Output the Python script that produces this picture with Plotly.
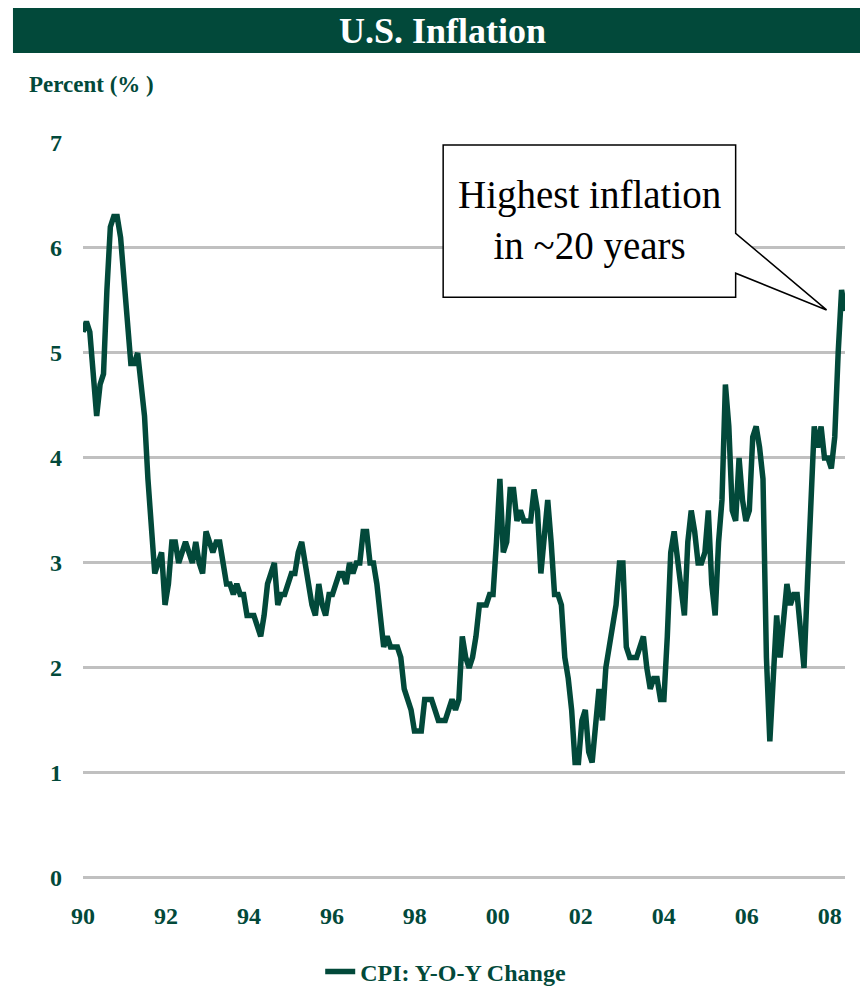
import plotly.graph_objects as go

# ---- data: CPI year-over-year change (%), monthly Jan 1990 - Aug 2008 ----
cpi_1990 = [5.2, 5.3, 5.2, 4.7, 4.4, 4.7, 4.8, 5.6, 6.2, 6.3, 6.3, 6.1]
cpi_1991 = [5.7, 5.3, 4.9, 4.9, 5.0, 4.7, 4.4, 3.8, 3.4, 2.9, 3.0, 3.1]
cpi_1992 = [2.6, 2.8, 3.2, 3.2, 3.0, 3.1, 3.2, 3.1, 3.0, 3.2, 3.0, 2.9]
cpi_1993 = [3.3, 3.2, 3.1, 3.2, 3.2, 3.0, 2.8, 2.8, 2.7, 2.8, 2.7, 2.7]
cpi_1994 = [2.5, 2.5, 2.5, 2.4, 2.3, 2.5, 2.8, 2.9, 3.0, 2.6, 2.7, 2.7]
cpi_1995 = [2.8, 2.9, 2.9, 3.1, 3.2, 3.0, 2.8, 2.6, 2.5, 2.8, 2.6, 2.5]
cpi_1996 = [2.7, 2.7, 2.8, 2.9, 2.9, 2.8, 3.0, 2.9, 3.0, 3.0, 3.3, 3.3]
cpi_1997 = [3.0, 3.0, 2.8, 2.5, 2.2, 2.3, 2.2, 2.2, 2.2, 2.1, 1.8, 1.7]
cpi_1998 = [1.6, 1.4, 1.4, 1.4, 1.7, 1.7, 1.7, 1.6, 1.5, 1.5, 1.5, 1.6]
cpi_1999 = [1.7, 1.6, 1.7, 2.3, 2.1, 2.0, 2.1, 2.3, 2.6, 2.6, 2.6, 2.7]
cpi_2000 = [2.7, 3.2, 3.8, 3.1, 3.2, 3.7, 3.7, 3.4, 3.5, 3.4, 3.4, 3.4]
cpi_2001 = [3.7, 3.5, 2.9, 3.3, 3.6, 3.2, 2.7, 2.7, 2.6, 2.1, 1.9, 1.6]
cpi_2002 = [1.1, 1.1, 1.5, 1.6, 1.2, 1.1, 1.5, 1.8, 1.5, 2.0, 2.2, 2.4]
cpi_2003 = [2.6, 3.0, 3.0, 2.2, 2.1, 2.1, 2.1, 2.2, 2.3, 2.0, 1.8, 1.9]
cpi_2004 = [1.9, 1.7, 1.7, 2.3, 3.1, 3.3, 3.0, 2.7, 2.5, 3.2, 3.5, 3.3]
cpi_2005 = [3.0, 3.0, 3.1, 3.5, 2.8, 2.5, 3.2, 3.6, 4.7, 4.3, 3.5, 3.4]
cpi_2006 = [4.0, 3.6, 3.4, 3.5, 4.2, 4.3, 4.1, 3.8, 2.1, 1.3, 2.0, 2.5]
cpi_2007 = [2.1, 2.4, 2.8, 2.6, 2.7, 2.7, 2.4, 2.0, 2.8, 3.5, 4.3, 4.1]
cpi_2008 = [4.3, 4.0, 4.0, 3.9, 4.2, 5.0, 5.6, 5.4]

cpi_yoy = (cpi_1990 + cpi_1991 + cpi_1992 + cpi_1993 + cpi_1994 + cpi_1995 +
           cpi_1996 + cpi_1997 + cpi_1998 + cpi_1999 + cpi_2000 + cpi_2001 +
           cpi_2002 + cpi_2003 + cpi_2004 + cpi_2005 + cpi_2006 + cpi_2007 +
           cpi_2008)
month_index = list(range(len(cpi_yoy)))

x_tick_labels = ["90", "92", "94", "96", "98", "00", "02", "04", "06", "08"]
x_tick_step = 24.28  # label spacing in months, as laid out in the reference
x_tick_vals = [k * x_tick_step for k in range(len(x_tick_labels))]
y_tick_vals = [0, 1, 2, 3, 4, 5, 6, 7]

GREEN = "#02493A"
GRID = "#C0C0C0"
SERIF = "Liberation Serif"

fig = go.Figure()
fig.add_trace(go.Scatter(
    x=month_index, y=cpi_yoy, mode="lines",
    name="CPI: Y-O-Y Change",
    line=dict(color=GREEN, width=5.5),
))

fig.update_layout(
    width=860, height=987,
    margin=dict(l=83, r=15, t=143, b=107, autoexpand=False),
    paper_bgcolor="white", plot_bgcolor="white",
    showlegend=True,
    legend=dict(orientation="h", x=0.476, xanchor="center",
                y=-0.1248, yanchor="middle",
                font=dict(family=SERIF, size=24, color=GREEN, weight="bold"),
                bgcolor="rgba(0,0,0,0)"),
    xaxis=dict(range=[0, len(cpi_yoy) - 1], tickmode="array",
               tickvals=x_tick_vals, ticktext=x_tick_labels,
               showgrid=False, zeroline=False, showline=False, ticks="",
               ticklabelstandoff=19,
               tickfont=dict(family=SERIF, size=24, color=GREEN, weight="bold")),
    yaxis=dict(range=[-0.02, 7], tickmode="array", tickvals=y_tick_vals,
               showgrid=True, gridcolor=GRID, gridwidth=3,
               zeroline=True, zerolinecolor=GRID, zerolinewidth=3,
               showline=False, ticks="",
               ticklabelstandoff=20,
               tickfont=dict(family=SERIF, size=24, color=GREEN, weight="bold")),
)

# Title bar
fig.add_shape(type="rect", xref="paper", yref="paper",
              x0=-0.0919, x1=1.03, y0=1.1221, y1=1.1832,
              fillcolor=GREEN, line=dict(width=0), layer="above")
fig.add_annotation(xref="paper", yref="paper", x=0.4724, y=1.152,
                   text="<b>U.S. Inflation</b>", showarrow=False,
                   xanchor="center", yanchor="middle",
                   font=dict(family=SERIF, size=36, color="white"))
# Axis unit label
fig.add_annotation(xref="paper", yref="paper", x=-0.0735, y=1.0787,
                   text="<b>Percent (% )</b>", showarrow=False,
                   xanchor="left", yanchor="middle",
                   font=dict(family=SERIF, size=23, color=GREEN))

# Callout box (data coordinates)
path = ("M 105.4,6.98 L 191.0,6.98 L 191.0,6.14 L 217.6,5.41 "
        "L 191.0,5.76 L 191.0,5.53 L 105.4,5.53 Z")
fig.add_shape(type="path", xref="x", yref="y", path=path,
              fillcolor="white", line=dict(color="black", width=1.5),
              layer="above")
fig.add_annotation(xref="x", yref="y", x=148.2, y=6.26,
                   text="Highest inflation<br>in ~20 years", showarrow=False,
                   xanchor="center", yanchor="middle",
                   font=dict(family=SERIF, size=39, color="black"))

fig.write_html("out.html",
               config={"displayModeBar": False},
               post_script="document.body.style.margin='0';"
                           "document.body.style.overflow='hidden';")
